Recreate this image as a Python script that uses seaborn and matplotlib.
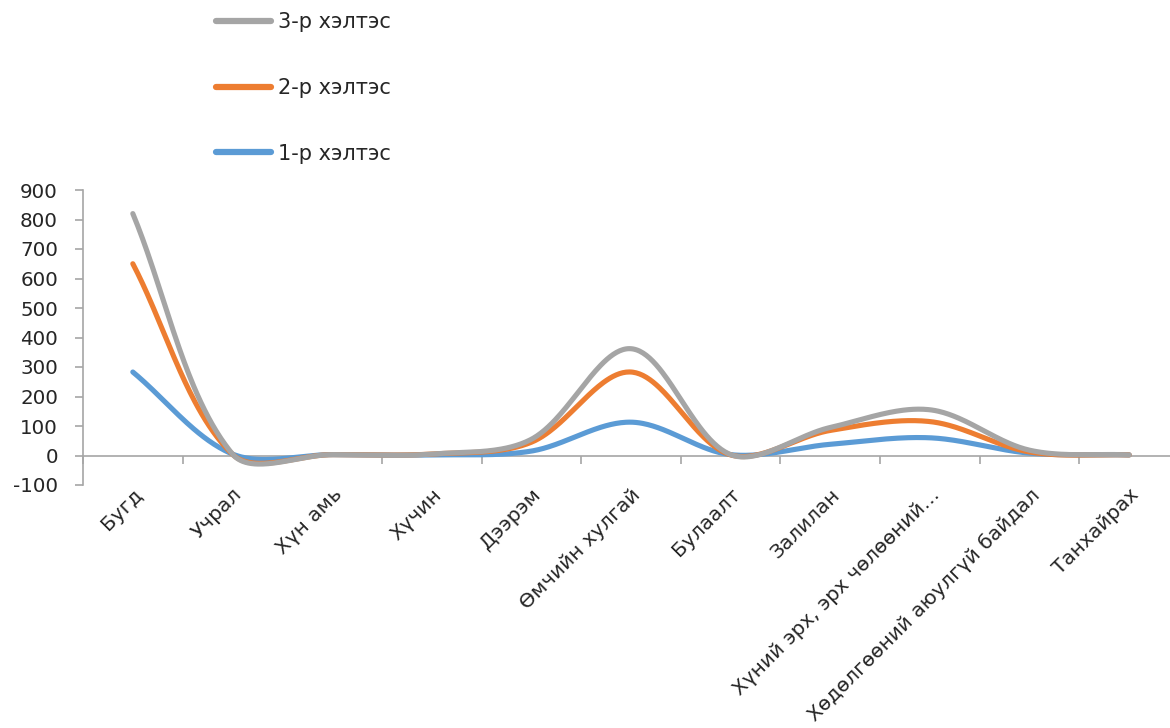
import numpy as np
import pandas as pd
import matplotlib
matplotlib.use("Agg")
import matplotlib.pyplot as plt
import seaborn as sns

categories = ["Бугд", "Учрал", "Хүн амь", "Хүчин", "Дээрэм", "Өмчийн хулгай",
              "Булаалт", "Залилан", "Хүний эрх, эрх чөлөөний…",
              "Хөдөлгөөний аюулгүй байдал", "Танхайрах"]
series_names = ["1-р хэлтэс", "2-р хэлтэс", "3-р хэлтэс"]
s1 = [283, 5, 3, 2, 15, 113, 3, 38, 60, 8, 2]
s2 = [650, 4, 3, 5, 45, 283, 2, 85, 115, 12, 2]
s3 = [820, 5, 3, 5, 55, 362, 3, 95, 155, 18, 2]
colors = ["#5B9BD5", "#ED7D31", "#A5A5A5"]

sns.set_theme(style="white")
plt.rcParams['font.family'] = ['DejaVu Sans']
plt.rcParams['axes.unicode_minus'] = False

W, H = 1170, 728
fig = plt.figure(figsize=(W / 100, H / 100), dpi=100)
ax_left, ax_right = 83, 1179
ax_top, ax_bot = 190, 485
ax = fig.add_axes([ax_left / W, 1 - ax_bot / H, (ax_right - ax_left) / W, (ax_bot - ax_top) / H])

ymin, ymax = -100, 900
n_cat = len(categories)
sx = (ax_right - ax_left) / n_cat
sy = (ax_bot - ax_top) / (ymax - ymin)


def excel_smooth(vals, n=60):
    xs = np.arange(len(vals), dtype=float)
    P = np.column_stack([xs * sx, np.asarray(vals, float) * sy])
    N = len(P)
    pts = []
    for i in range(N - 1):
        p1, p2 = P[i], P[i + 1]
        p0 = P[i - 1] if i > 0 else P[i]
        p3 = P[i + 2] if i + 2 < N else P[i + 1]
        d01 = np.linalg.norm(p1 - p0)
        d12 = np.linalg.norm(p2 - p1)
        d23 = np.linalg.norm(p3 - p2)
        c1 = p1 + (p2 - p0) * d12 / (d01 + d12) / 3
        c2 = p2 - (p3 - p1) * d12 / (d12 + d23) / 3
        t = np.linspace(0, 1, n)[:, None]
        seg = ((1 - t) ** 3) * p1 + 3 * ((1 - t) ** 2) * t * c1 + 3 * (1 - t) * t ** 2 * c2 + t ** 3 * p2
        if i > 0:
            seg = seg[1:]
        pts.append(seg)
    pts = np.vstack(pts)
    return pts[:, 0] / sx, pts[:, 1] / sy


frames = []
for name, vals in zip(series_names, [s1, s2, s3]):
    x, y = excel_smooth(vals)
    frames.append(pd.DataFrame({"x": x, "y": y, "series": name}))
df = pd.concat(frames, ignore_index=True)

sns.lineplot(data=df, x="x", y="y", hue="series", hue_order=series_names,
             palette=colors, estimator=None, sort=False, linewidth=3.7,
             ax=ax, legend=True)
for ln in ax.get_lines():
    ln.set_solid_capstyle("round")

ax.set_xlim(-0.5, n_cat - 0.5)
ax.set_ylim(ymin, ymax)
ax.set_xlabel("")
ax.set_ylabel("")
ax.set_yticks(np.arange(-100, 901, 100))
ax.set_xticks(np.arange(n_cat))
ax.set_xticklabels(categories, rotation=45, ha="right", rotation_mode="anchor", fontsize=14.5)
ax.tick_params(axis="x", length=0, pad=0)
ax.tick_params(axis="y", length=6, width=1.2, color="#A6A6A6", direction="out", labelsize=14.3, pad=12, left=True)
for s in ["top", "right", "bottom"]:
    ax.spines[s].set_visible(False)
ax.spines["left"].set_color("#A6A6A6")
ax.spines["left"].set_linewidth(1.2)

sec = ax.secondary_xaxis(0, transform=ax.transData)
sec.set_xticks(np.arange(n_cat + 1) - 0.5)
sec.set_xticklabels([])
sec.tick_params(axis="x", length=6, width=1.2, color="#A6A6A6", direction="out")
sec.spines["bottom"].set_color("#A6A6A6")
sec.spines["bottom"].set_linewidth(1.2)

handles, labels = ax.get_legend_handles_labels()
ax.get_legend().remove()
leg = fig.legend(handles[::-1], labels[::-1], loc="upper left",
                 bbox_to_anchor=(216 / W, 1 - 12 / H), frameon=False, fontsize=15,
                 handlelength=2.65, handletextpad=0.35, labelspacing=2.2,
                 borderpad=0, borderaxespad=0)
for h in leg.get_lines():
    h.set_linewidth(4.5)
    h.set_solid_capstyle("round")

fig.savefig("out.png", dpi=100)
